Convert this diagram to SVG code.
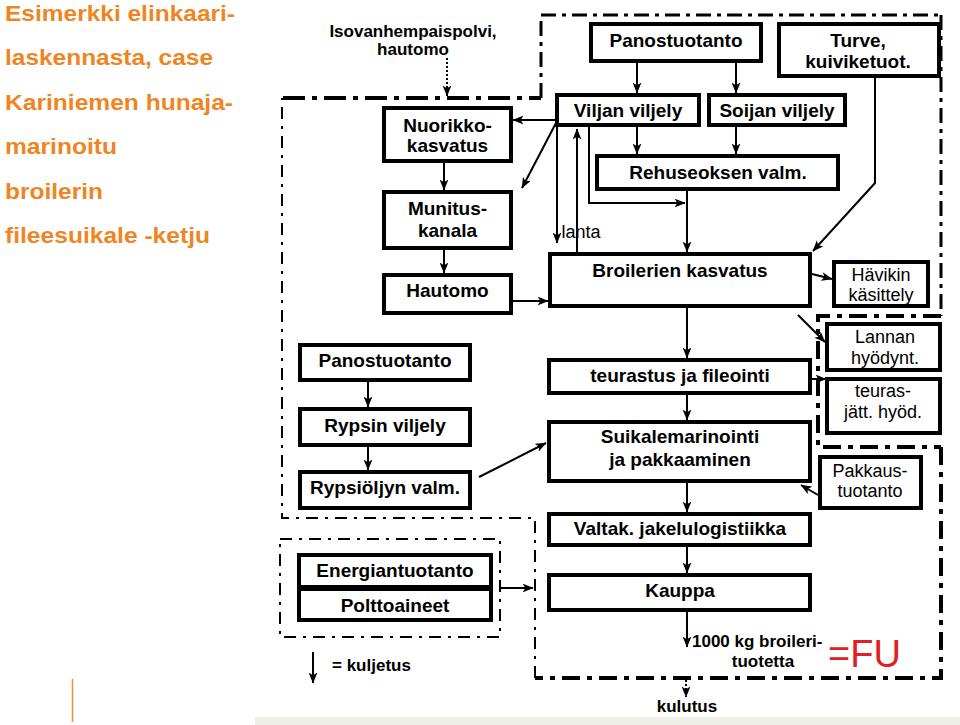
<svg xmlns="http://www.w3.org/2000/svg" width="960" height="725" viewBox="0 0 960 725">
<style>
.box{fill:#fff;stroke:#000;stroke-width:4}
.t{font-family:"Liberation Sans",Arial,sans-serif;font-weight:bold;font-size:19px;fill:#000;text-anchor:middle}
.r{font-family:"Liberation Sans",Arial,sans-serif;font-size:18px;fill:#000;text-anchor:middle}
.s{font-family:"Liberation Sans",Arial,sans-serif;font-weight:bold;font-size:17px;fill:#000}
.title{font-family:"Liberation Sans",Arial,sans-serif;font-weight:bold;font-size:22px;fill:#EF8522}
.c{fill:none;stroke:#000;stroke-width:2}
.ca{fill:none;stroke:#000;stroke-width:2;marker-end:url(#ah)}
.bd{fill:none;stroke:#000}
</style>
<defs>
<marker id="ah" viewBox="0 0 10 8" refX="9.5" refY="4" markerWidth="11" markerHeight="9" markerUnits="userSpaceOnUse" orient="auto"><path d="M0,0 L10,4 L0,8 L2.5,4 z" fill="#000"/></marker>
</defs>
<rect x="0" y="0" width="960" height="725" fill="#fff"/>
<rect x="255" y="717" width="705" height="8" fill="#EFEFE9"/>
<line x1="72.5" y1="679" x2="72.5" y2="722" stroke="#E8962A" stroke-width="1.5"/>
<g id="title">
<text class="title" x="5" y="21" textLength="230" lengthAdjust="spacingAndGlyphs">Esimerkki elinkaari-</text>
<text class="title" x="5" y="65" textLength="208" lengthAdjust="spacingAndGlyphs">laskennasta, case</text>
<text class="title" x="5" y="110" textLength="228" lengthAdjust="spacingAndGlyphs">Kariniemen hunaja-</text>
<text class="title" x="5" y="154" textLength="112" lengthAdjust="spacingAndGlyphs">marinoitu</text>
<text class="title" x="5" y="199" textLength="98" lengthAdjust="spacingAndGlyphs">broilerin</text>
<text class="title" x="5" y="243" textLength="205" lengthAdjust="spacingAndGlyphs">fileesuikale -ketju</text>
</g>
<g id="boundaries">
<path class="bd" d="M283,98 H541" stroke-width="4" stroke-dasharray="22 7 5 7"/>
<path class="bd" d="M541,98 V15" stroke-width="3" stroke-dasharray="15 6 4 6"/>
<path class="bd" d="M541,15 H941" stroke-width="3" stroke-dasharray="15 6 4 6"/>
<path class="bd" d="M941,15 V316" stroke-width="3" stroke-dasharray="15 6 4 6"/>
<path class="bd" d="M941,316 H818 V447 H941" stroke-width="4" stroke-dasharray="18 7 5 7"/>
<path class="bd" d="M941,447 V678 H535" stroke-width="4" stroke-dasharray="18 7 5 7"/>
<path class="bd" d="M535,678 V518 H282 V98" stroke-width="2" stroke-dasharray="12 7 3 7"/>
<rect class="bd" x="280" y="539" width="220" height="98" stroke-width="2" stroke-dasharray="12 7 3 7"/>
</g>
<g id="connectors">
<path class="c" d="M447,58 V96" stroke-dasharray="2 2" marker-end="url(#ah)"/>
<path class="ca" d="M637,63 V93"/>
<path class="ca" d="M736,63 V93"/>
<path class="ca" d="M637,127 V154"/>
<path class="ca" d="M736,127 V154"/>
<path class="ca" d="M687,191 V252"/>
<path class="ca" d="M589,127 V203 H685"/>
<path class="ca" d="M875,78 V183 L813,251" stroke-width="2.5"/>
<path class="ca" d="M812,274 L832,279" stroke-width="2.5"/>
<path class="ca" d="M555,120 H513"/>
<path class="ca" d="M556,123 L522,188" stroke-width="1.5"/>
<path class="ca" d="M557,127 V243" stroke-width="2.5"/>
<path class="ca" d="M577,252 V129" stroke-width="2.5"/>
<path class="ca" d="M513,301 H548"/>
<path class="ca" d="M444,163 V190"/>
<path class="ca" d="M444,250 V273"/>
<path class="ca" d="M687,308 V358"/>
<path class="ca" d="M687,395 V420"/>
<path class="ca" d="M687,483 V512"/>
<path class="ca" d="M687,547 V573"/>
<path class="ca" d="M687,612 V647"/>
<path class="c" d="M686,680 V697" stroke-dasharray="2 2" marker-end="url(#ah)"/>
<path class="ca" d="M798,315 L825,342" stroke-width="3"/>
<path class="ca" d="M812,379 H826"/>
<path class="c" d="M777,427 H812" stroke-width="3.5"/>
<path class="ca" d="M818,495 L801,485" stroke-width="2.5"/>
<path class="ca" d="M479,477 L546,443" stroke-width="2.5"/>
<path class="ca" d="M368,382 V407"/>
<path class="ca" d="M368,447 V470"/>
<path class="ca" d="M500,588 H533"/>
<path class="ca" d="M313,652 V683"/>
</g>
<g id="iso"><text class="s" x="413" y="37" text-anchor="middle">Isovanhempaispolvi,</text><text class="s" x="413" y="55" text-anchor="middle">hautomo</text></g>
<g id="nuorikko"><rect class="box" x="384" y="108" width="127" height="53"/><text class="t" x="447.5" y="131.5">Nuorikko-</text><text class="t" x="447.5" y="152">kasvatus</text></g>
<g id="munitus"><rect class="box" x="384" y="192" width="127" height="56"/><text class="t" x="447.5" y="215">Munitus-</text><text class="t" x="447.5" y="237">kanala</text></g>
<g id="hautomo"><rect class="box" x="384" y="275" width="127" height="38"/><text class="t" x="447.5" y="297">Hautomo</text></g>
<g id="panos1"><rect class="box" x="591" y="24" width="170" height="37"/><text class="t" x="676" y="47">Panostuotanto</text></g>
<g id="turve"><rect class="box" x="779" y="24" width="160" height="52"/><text class="t" x="858" y="47">Turve,</text><text class="t" x="858" y="68">kuiviketuot.</text></g>
<g id="viljan"><rect class="box" x="557" y="95" width="142" height="30"/><text class="t" x="628" y="117">Viljan viljely</text></g>
<g id="soijan"><rect class="box" x="709" y="95" width="136" height="30"/><text class="t" x="777" y="117">Soijan viljely</text></g>
<g id="rehu"><rect class="box" x="597" y="156" width="241" height="33"/><text class="t" x="718" y="179">Rehuseoksen valm.</text></g>
<g id="lanta"><text class="r" x="581" y="238" text-anchor="start" font-size="17">lanta</text></g>
<g id="broiler"><rect class="box" x="550" y="254" width="260" height="52"/><text class="t" x="680" y="277">Broilerien kasvatus</text></g>
<g id="havikki"><rect class="box" x="834" y="262" width="94" height="44" stroke-width="3.5"/><text class="r" x="881" y="281" font-size="17">Hävikin</text><text class="r" x="881" y="301" font-size="17">käsittely</text><rect x="834" y="304" width="94" height="4" fill="#000"/></g>
<g id="lannan"><rect class="box" x="827" y="324" width="113" height="46"/><text class="r" x="885" y="343">Lannan</text><text class="r" x="885" y="364">hyödynt.</text><rect x="825" y="368" width="117" height="4" fill="#000"/></g>
<g id="teuras"><rect class="box" x="827" y="379" width="113" height="54"/><text class="r" x="883" y="397">teuras-</text><text class="r" x="883" y="418">jätt. hyöd.</text></g>
<g id="pakkaus"><rect class="box" x="820" y="457" width="101" height="51"/><text class="r" x="870" y="477">Pakkaus-</text><text class="r" x="870" y="497">tuotanto</text></g>
<g id="teurastus"><rect class="box" x="549" y="360" width="261" height="33"/><text class="t" x="680" y="382">teurastus ja fileointi</text></g>
<g id="suikale"><rect class="box" x="549" y="422" width="261" height="59"/><text class="t" x="680" y="443">Suikalemarinointi</text><text class="t" x="680" y="466">ja pakkaaminen</text></g>
<g id="valtak"><rect class="box" x="549" y="514" width="261" height="31"/><text class="t" x="680" y="535">Valtak. jakelulogistiikka</text></g>
<g id="kauppa"><rect class="box" x="549" y="575" width="261" height="35"/><text class="t" x="680" y="597">Kauppa</text></g>
<g id="panos2"><rect class="box" x="300" y="345" width="170" height="35"/><text class="t" x="385" y="367">Panostuotanto</text></g>
<g id="rypsin"><rect class="box" x="300" y="409" width="170" height="36"/><text class="t" x="385" y="432">Rypsin viljely</text></g>
<g id="rypsiol"><rect class="box" x="300" y="472" width="170" height="36"/><text class="t" x="385" y="494">Rypsiöljyn valm.</text></g>
<g id="energia"><rect class="box" x="299" y="555" width="192" height="32"/><text class="t" x="395" y="577">Energiantuotanto</text></g>
<g id="poltto"><rect class="box" x="299" y="589" width="192" height="31"/><text class="t" x="395" y="612">Polttoaineet</text></g>
<g id="legend"><text class="s" x="332" y="671">= kuljetus</text></g>
<g id="fu"><text class="s" x="692" y="647" font-size="18">1000 kg broileri-</text><text class="s" x="763" y="667" font-size="18" text-anchor="middle">tuotetta</text><text x="828" y="667" font-family="Liberation Sans,Arial,sans-serif" font-size="38" fill="#E02020">=FU</text></g>
<g id="kulutus"><text class="s" x="687" y="712" text-anchor="middle">kulutus</text></g>
</svg>
